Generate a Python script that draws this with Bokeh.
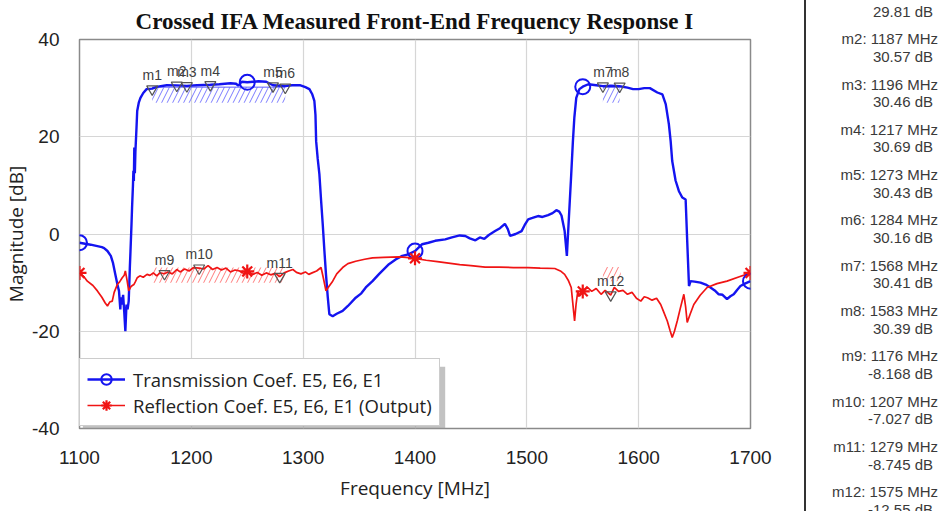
from bokeh.plotting import figure
from bokeh.models import Range1d, Legend, LegendItem, BoxAnnotation, FixedTicker, Div
from bokeh.layouts import row
from bokeh.core.properties import value
from bokeh.embed import file_html
from bokeh.resources import INLINE

# ---------------- data ----------------
trans_freq = [1100, 1105, 1110, 1116, 1120, 1122, 1125, 1128, 1130, 1132, 1134, 1135.3, 1136.5, 1137,
              1138, 1139, 1140, 1141, 1142, 1143, 1144, 1145, 1145.6, 1146.5, 1147, 1147.8, 1148.2,
              1148.6, 1149, 1149.5, 1150, 1151, 1151.6, 1153, 1154.5, 1157, 1160, 1165, 1170, 1178,
              1187, 1196, 1205, 1217, 1225, 1235, 1240, 1242, 1245, 1250, 1260, 1267, 1273, 1280, 1284,
              1290, 1297, 1302, 1305.6, 1308, 1310, 1311, 1311.6, 1313, 1314.5, 1316, 1317.5, 1319,
              1320.4, 1322, 1323.4, 1326.4, 1330, 1335.3, 1340, 1347, 1352, 1356, 1362, 1368, 1376.7,
              1383, 1388.6, 1394, 1400, 1406.4, 1412, 1418, 1427, 1433, 1440, 1445, 1449, 1454, 1458,
              1462, 1466, 1471.6, 1476, 1480.4, 1483, 1485, 1490, 1495.3, 1498, 1501.2, 1505, 1510,
              1514, 1519, 1523, 1526.4, 1529, 1531, 1533.8, 1535.8, 1537.3, 1539.7, 1541.2, 1542.5,
              1544.2, 1547, 1550, 1555, 1562, 1568, 1575, 1583, 1590, 1595, 1600, 1605, 1610, 1616.7,
              1621.2, 1624.2, 1627, 1628.6, 1630, 1633, 1636, 1639, 1642, 1643.4, 1645, 1646.4, 1650,
              1655.3, 1660, 1664.2, 1668, 1671.6, 1675, 1679, 1682, 1685, 1688, 1691, 1695, 1700]
trans_db = [-1.8, -2.0, -2.2, -2.5, -2.7, -2.9, -3.5, -4.5, -6.0, -8.3, -10.5, -11.7, -15.5, -13.0,
            -14.5, -12.5, -16.0, -20.0, -14.5, -15.5, -13.8, -7.0, -3.5, 2.0, 5.4, 10.0, 13.0,
            10.9, 17.8, 12.5, 17.0, 22.0, 25.3, 27.0, 28.0, 29.0, 29.8, 29.9, 30.3, 30.6,
            30.57, 30.46, 30.6, 30.69, 30.8, 31.0, 30.9, 30.5, 31.3, 31.2, 31.4, 31.3, 30.6, 30.5, 30.4,
            30.6, 30.6, 30.2, 29.8, 28.8, 27.4, 24.5, 19.1, 15.5, 12.3, 7.0, 2.0, -3.5,
            -8.3, -13.0, -16.5, -16.9, -16.4, -15.8, -14.8, -13.1, -12.2, -11.0, -9.7, -8.2, -6.2,
            -5.2, -4.5, -4.2, -3.5, -2.1, -1.8, -1.4, -1.1, -0.7, -0.3, -0.4, -0.9, -1.3, -0.7,
            -1.0, -0.2, 0.6, 1.2, 2.1, 1.0, -0.4, 0.0, 0.6, 1.8, 3.0, 3.3, 3.7,
            3.5, 3.9, 4.3, 4.9, 4.6, 3.8, 0.6, -4.5, 2.0, 12.3, 19.1, 24.0,
            28.0, 29.8, 30.3, 30.8, 30.6, 30.41, 30.5, 30.39, 30.1, 29.8, 29.8, 30.0, 30.0, 29.1,
            28.7, 26.7, 22.6, 19.1, 15.0, 11.0, 8.8, 7.5, 7.1, -1.4, -10.7, -9.7, -9.8,
            -10.0, -10.4, -11.0, -11.6, -12.4, -12.5, -13.4, -12.8, -12.4, -11.5, -10.7, -10.2, -9.7]

refl_freq = [1100, 1104, 1107, 1112, 1116, 1120, 1123, 1125, 1127, 1129.3, 1131, 1133.8, 1136, 1138.2,
             1140, 1141, 1142.5, 1144, 1146, 1148.6, 1150, 1151.6, 1154, 1157, 1160.4, 1163, 1166,
             1169, 1172, 1176, 1179, 1183, 1187, 1190, 1194, 1198, 1202, 1207, 1211, 1215, 1219,
             1223, 1227, 1231, 1235, 1239, 1243, 1247, 1251, 1255, 1259, 1263, 1267, 1271, 1275,
             1279, 1283, 1287, 1290.8, 1294, 1298, 1302, 1305, 1308, 1312, 1316, 1318, 1320.4, 1323,
             1326.4, 1330, 1335.3, 1340, 1347, 1355, 1362, 1372, 1385.6, 1392, 1400, 1410, 1420, 1430,
             1440, 1450, 1462.7, 1475, 1488, 1501, 1512, 1525, 1530, 1533.8, 1537, 1539.7, 1541,
             1542.7, 1544, 1545.6, 1547, 1548.6, 1551, 1554.5, 1558, 1562, 1566.4, 1570, 1575, 1578.2,
             1582, 1586, 1590, 1594, 1598, 1601.9, 1605, 1607.9, 1612, 1616, 1619.7, 1622, 1625.6,
             1628, 1630, 1632, 1634.5, 1637, 1640.4, 1642, 1643.4, 1646, 1649.3, 1655, 1661.2, 1670,
             1679, 1690, 1700]
refl_db = [-8.0, -8.8, -9.7, -10.6, -11.7, -13.0, -14.2, -14.8, -14.0, -13.8, -12.0, -10.4, -9.8, -9.0,
           -8.5, -7.6, -9.5, -11.7, -10.8, -10.4, -9.8, -9.0, -8.6, -8.9, -8.3, -8.5, -8.0,
           -8.6, -8.0, -8.17, -7.8, -8.2, -7.3, -7.8, -7.2, -7.6, -6.9, -7.03, -7.2, -6.5, -7.3,
           -6.9, -7.4, -7.0, -7.8, -7.4, -7.6, -8.1, -7.7, -8.3, -7.9, -8.5, -8.0, -8.4, -8.1,
           -8.75, -8.0, -7.6, -7.3, -7.9, -8.2, -7.8, -8.3, -8.0, -7.6, -6.9, -9.0, -11.7, -10.8,
           -9.7, -8.2, -6.9, -6.1, -5.6, -5.2, -4.9, -4.8, -4.7, -4.8, -5.0, -5.4, -5.7, -6.0,
           -6.3, -6.5, -6.8, -6.8, -6.9, -6.9, -7.0, -7.1, -7.6, -8.3, -9.5, -11.0, -14.0,
           -17.9, -14.5, -11.7, -12.8, -12.4, -11.5, -11.0, -11.8, -11.2, -12.4, -11.6, -12.55, -11.0,
           -11.8, -11.6, -12.4, -12.0, -13.2, -13.8, -12.9, -13.1, -13.6, -13.2, -14.5, -15.8, -17.9,
           -19.8, -21.3, -20.0, -17.9, -15.5, -12.4, -15.0, -18.2, -16.5, -14.5, -12.6, -11.0, -10.2,
           -9.7, -8.8, -8.0]

# series symbols (every 150 MHz)
sym_freq = [1100, 1250, 1400, 1550, 1700]
trans_sym_db = [-1.8, 31.2, -3.5, 30.3, -9.7]
refl_sym_db = [-8.0, -7.7, -5.0, -11.8, -8.0]

# markers
mk_names = ["m1", "m2", "m3", "m4", "m5", "m6", "m7", "m8", "m9", "m10", "m11", "m12"]
mk_freq = [1165, 1187, 1196, 1217, 1273, 1284, 1568, 1583, 1176, 1207, 1279, 1575]
mk_db = [29.81, 30.57, 30.46, 30.69, 30.43, 30.16, 30.41, 30.39, -8.168, -7.027, -8.745, -12.55]

# limit (hatched) regions
lim_left = [1165, 1568]
lim_right = [1284, 1583]
trans_lim_top = [30.2, 30.2]
trans_lim_bot = [27.0, 27.0]
refl_lim_left = [1165, 1568]
refl_lim_right = [1284, 1584]
refl_lim_top = [-6.9, -6.8]
refl_lim_bot = [-10.0, -9.7]

x_ticks = [1100, 1200, 1300, 1400, 1500, 1600, 1700]
y_ticks = [-40, -20, 0, 20, 40]
x_label = "Frequency [MHz]"
y_label = "Magnitude [dB]"
title_text = "Crossed IFA Measured Front-End Frequency Response I"

BLUE = "#1414f0"
RED = "#f01414"
SANS = "Open Sans"

# ---------------- main plot ----------------
p = figure(width=798, height=506, output_backend="svg", toolbar_location=None,
           x_range=Range1d(1100, 1700), y_range=Range1d(-40, 40),
           min_border_left=74, min_border_right=48, min_border_top=30, min_border_bottom=78,
           background_fill_color="white", border_fill_color="white")

p.title.text = title_text
p.title.text_font = "Liberation Serif"
p.title.text_font_style = "bold"
p.title.text_font_size = "23px"
p.title.align = "center"
p.title.text_color = "#111111"
p.title.standoff = 12

p.outline_line_color = "#8a8a8a"
p.outline_line_width = 1.5

for ax in (p.xaxis[0], p.yaxis[0]):
    ax.axis_line_color = None
    ax.major_tick_line_color = None
    ax.minor_tick_line_color = None
    ax.major_tick_out = 0
    ax.major_tick_in = 0
    ax.minor_tick_out = 0
    ax.minor_tick_in = 0
    ax.major_label_text_font = "Liberation Sans"
    ax.major_label_text_font_size = "19px"
    ax.major_label_text_color = "#222222"
    ax.axis_label_text_font = SANS
    ax.axis_label_text_font_size = "19px"
    ax.axis_label_text_font_style = "normal"
    ax.axis_label_text_color = "#222222"

p.xaxis.ticker = FixedTicker(ticks=x_ticks)
p.yaxis.ticker = FixedTicker(ticks=y_ticks)
p.yaxis.major_label_overrides = {t: str(t) for t in y_ticks}
p.xaxis.major_label_overrides = {t: str(t) for t in x_ticks}
p.xaxis.axis_label = x_label
p.yaxis.axis_label = y_label
p.xaxis.major_label_standoff = 22
p.yaxis.major_label_standoff = 20
p.xaxis.axis_label_standoff = 8
p.yaxis.axis_label_standoff = 0

p.grid.grid_line_color = "#d6d6d6"
p.grid.grid_line_width = 1.2

# hatched limit regions
p.quad(left=lim_left, right=lim_right, bottom=trans_lim_bot, top=trans_lim_top,
       fill_alpha=0, line_color=None, hatch_pattern="/", hatch_color="#5a5aff",
       hatch_alpha=0.8, hatch_scale=11, hatch_weight=1)
p.segment(x0=lim_left, x1=lim_right, y0=trans_lim_top, y1=trans_lim_top,
          line_color="#5a5aff", line_width=1)
p.quad(left=refl_lim_left, right=refl_lim_right, bottom=refl_lim_bot, top=refl_lim_top,
       fill_alpha=0, line_color=None, hatch_pattern="/", hatch_color="#ff5a5a",
       hatch_alpha=0.8, hatch_scale=11, hatch_weight=1)

# curves
tl = p.line(trans_freq, trans_db, line_color=BLUE, line_width=2.4)
rl = p.line(refl_freq, refl_db, line_color=RED, line_width=1.7)
ts = p.scatter(sym_freq, trans_sym_db, marker="circle", size=15, fill_color=None,
               line_color=BLUE, line_width=2)
rs = p.scatter(sym_freq, refl_sym_db, marker="asterisk", size=14, line_color=RED, line_width=2.2)

# markers
p.scatter(mk_freq, mk_db, marker="inverted_triangle", size=11, fill_color=None,
          line_color="#555555", line_width=1.2)
p.text(mk_freq, mk_db, text=mk_names, text_font=value("Liberation Sans"), text_font_size="14px",
       text_color="#404040", text_align="center", text_baseline="bottom", y_offset=-6)

# legend shadow
p.add_layout(BoxAnnotation(left=1103, right=1427, bottom=-41, top=-27.3,
                           fill_color="#9a9a9a", fill_alpha=0.6, line_color=None))

legend = Legend(items=[LegendItem(label="Transmission Coef. E5, E6, E1", renderers=[tl, ts]),
                       LegendItem(label="Reflection Coef. E5, E6, E1 (Output)", renderers=[rl, rs])],
                location=(0, 2), orientation="vertical")
legend.label_text_font = SANS
legend.label_text_font_size = "18.5px"
legend.label_text_color = "#222222"
legend.glyph_width = 38
legend.glyph_height = 26
legend.label_height = 26
legend.spacing = 0
legend.padding = 7
legend.margin = 0
legend.label_standoff = 8
legend.border_line_color = "#999999"
legend.border_line_width = 1
legend.background_fill_color = "white"
legend.background_fill_alpha = 1
p.add_layout(legend, "center")

# ---------------- marker readout panel ----------------
row_step = 45.3
parts = ['<div style="position:absolute;left:1px;top:-8px;width:2px;height:530px;background:#333333;"></div>']
for i, (n, f, v) in enumerate(zip(mk_names, mk_freq, mk_db)):
    y1 = -3.6 + row_step * i - 7.5  # centre of first line relative to panel top
    parts.append(
        f'<div style="position:absolute;right:3px;top:{y1 - 9:.1f}px;line-height:18px;white-space:nowrap;">'
        f'{n}: {f} MHz</div>')
    parts.append(
        f'<div style="position:absolute;right:8px;top:{y1 + 8.6:.1f}px;line-height:18px;white-space:nowrap;">'
        f'{v:.4g} dB</div>')
panel = Div(text="".join(parts), width=138, height=495,
            styles={"position": "relative", "overflow": "visible",
                    "font-family": "'Liberation Sans', Arial, sans-serif",
                    "font-size": "15px", "color": "#3a3a3a"})

layout = row(p, panel, spacing=0)
open("out.html", "w").write(file_html(layout, INLINE))
